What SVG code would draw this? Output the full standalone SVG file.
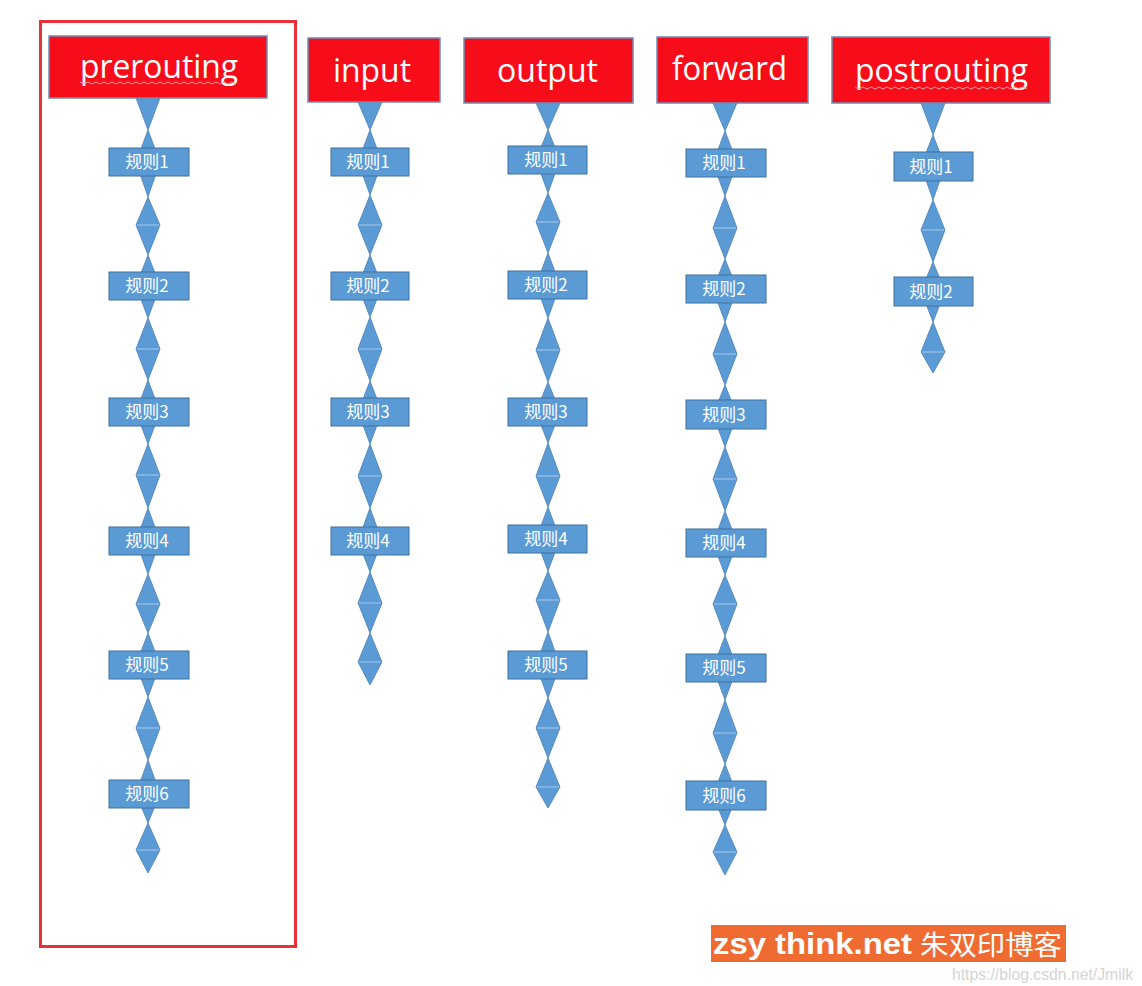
<svg xmlns="http://www.w3.org/2000/svg" width="1142" height="986" viewBox="0 0 1142 986">
<style>
.hdr{fill:#f70d1a;stroke:#6f8fb8;stroke-width:1.5}
.ht{fill:#ffffff;font-family:"Open Sans","Liberation Sans",sans-serif;font-size:32px;text-anchor:middle}
.box{fill:#5b9bd5;stroke:#41719c;stroke-width:1}
.bt{fill:#ffffff;font-family:"Noto Sans CJK SC","Liberation Sans",sans-serif;font-size:17px;text-anchor:middle}
.tri{fill:#5b9bd5;stroke:#4a7fb5;stroke-width:0.8}
.mid{stroke:#a9c8e8;stroke-width:1}
.sq{fill:none;stroke:#d9a3a3;stroke-width:1}
</style>
<rect x="0" y="0" width="1142" height="986" fill="#ffffff"/>
<rect x="40.5" y="21.5" width="255" height="925" fill="none" stroke="#ec3038" stroke-width="3"/>

<g id="connectors">
  <!-- prerouting -->
  <polygon class="tri" points="136,98 160,98 148,130"/>
  <polygon class="tri" points="148,130 160,162 148,197 136,162"/>
  <polygon class="tri" points="148,197 160,225 148,255 136,225"/>
  <polygon class="tri" points="148,255 160,286 148,318 136,286"/>
  <polygon class="tri" points="148,318 160,349 148,380 136,349"/>
  <polygon class="tri" points="148,380 160,412 148,444 136,412"/>
  <polygon class="tri" points="148,444 160,475 148,508 136,475"/>
  <polygon class="tri" points="148,508 160,541 148,574 136,541"/>
  <polygon class="tri" points="148,574 160,604 148,633 136,604"/>
  <polygon class="tri" points="148,633 160,665 148,697 136,665"/>
  <polygon class="tri" points="148,697 160,728 148,760 136,728"/>
  <polygon class="tri" points="148,760 160,794 148,823 136,794"/>
  <polygon class="tri" points="148,823 160,850 148,873 136,850"/>
  <path class="mid" d="M137,225H159M137,349H159M137,475H159M137,604H159M137,728H159M137,850H159"/>
  <!-- input -->
  <polygon class="tri" points="358,102 382,102 370,130"/>
  <polygon class="tri" points="370,130 382,162 370,195 358,162"/>
  <polygon class="tri" points="370,195 382,225 370,255 358,225"/>
  <polygon class="tri" points="370,255 382,286 370,317 358,286"/>
  <polygon class="tri" points="370,317 382,349 370,381 358,349"/>
  <polygon class="tri" points="370,381 382,412 370,444 358,412"/>
  <polygon class="tri" points="370,444 382,476 370,508 358,476"/>
  <polygon class="tri" points="370,508 382,541 370,572 358,541"/>
  <polygon class="tri" points="370,572 382,603 370,633 358,603"/>
  <polygon class="tri" points="370,633 382,662 370,685 358,662"/>
  <path class="mid" d="M359,225H381M359,349H381M359,476H381M359,603H381M359,662H381"/>
  <!-- output -->
  <polygon class="tri" points="536,103 560,103 548,130"/>
  <polygon class="tri" points="548,130 560,160 548,193 536,160"/>
  <polygon class="tri" points="548,193 560,222 548,253 536,222"/>
  <polygon class="tri" points="548,253 560,285 548,318 536,285"/>
  <polygon class="tri" points="548,318 560,350 548,382 536,350"/>
  <polygon class="tri" points="548,382 560,412 548,443 536,412"/>
  <polygon class="tri" points="548,443 560,476 548,507 536,476"/>
  <polygon class="tri" points="548,507 560,539 548,571 536,539"/>
  <polygon class="tri" points="548,571 560,600 548,632 536,600"/>
  <polygon class="tri" points="548,632 560,665 548,698 536,665"/>
  <polygon class="tri" points="548,698 560,728 548,758 536,728"/>
  <polygon class="tri" points="548,758 560,787 548,808 536,787"/>
  <path class="mid" d="M537,222H559M537,350H559M537,476H559M537,600H559M537,728H559M537,787H559"/>
  <!-- forward -->
  <polygon class="tri" points="713,103 737,103 725,131"/>
  <polygon class="tri" points="725,131 737,163 725,196 713,163"/>
  <polygon class="tri" points="725,196 737,228 725,259 713,228"/>
  <polygon class="tri" points="725,259 737,289 725,322 713,289"/>
  <polygon class="tri" points="725,322 737,354 725,385 713,354"/>
  <polygon class="tri" points="725,385 737,415 725,447 713,415"/>
  <polygon class="tri" points="725,447 737,479 725,511 713,479"/>
  <polygon class="tri" points="725,511 737,543 725,575 713,543"/>
  <polygon class="tri" points="725,575 737,604 725,636 713,604"/>
  <polygon class="tri" points="725,636 737,668 725,700 713,668"/>
  <polygon class="tri" points="725,700 737,733 725,764 713,733"/>
  <polygon class="tri" points="725,764 737,795 725,825 713,795"/>
  <polygon class="tri" points="725,825 737,852 725,875 713,852"/>
  <path class="mid" d="M714,228H736M714,354H736M714,479H736M714,604H736M714,733H736M714,852H736"/>
  <!-- postrouting -->
  <polygon class="tri" points="921,103 945,103 933,135"/>
  <polygon class="tri" points="933,135 945,166 933,200 921,166"/>
  <polygon class="tri" points="933,200 945,230 933,262 921,230"/>
  <polygon class="tri" points="933,262 945,291 933,322 921,291"/>
  <polygon class="tri" points="933,322 945,352 933,373 921,352"/>
  <path class="mid" d="M922,230H944M922,352H944"/>
</g>

<g id="prerouting">
  <rect class="hdr" x="49" y="36" width="218" height="62"/>
  <text class="ht" x="159" y="78" textLength="158" lengthAdjust="spacingAndGlyphs">prerouting</text>
  <path class="sq" d="M80,82 l4,2 l4,-2 l4,2 l4,-2 l4,2 l4,-2 l4,2 l4,-2 l4,2 l4,-2 l4,2 l4,-2 l4,2 l4,-2 l4,2 l4,-2 l4,2 l4,-2 l4,2 l4,-2 l4,2 l4,-2 l4,2 l4,-2 l4,2 l4,-2 l4,2 l4,-2 l4,2 l4,-2 l4,2 l4,-2 l4,2 l4,-2 l4,2 l4,-2 l4,2 l4,-2 l4,2"/>
</g>
<g id="pre-r1"><rect class="box" x="109" y="148" width="80" height="28"/><text class="bt" x="147" y="168">规则1</text></g>
<g id="pre-r2"><rect class="box" x="109" y="272" width="80" height="28"/><text class="bt" x="147" y="292">规则2</text></g>
<g id="pre-r3"><rect class="box" x="109" y="398" width="80" height="28"/><text class="bt" x="147" y="418">规则3</text></g>
<g id="pre-r4"><rect class="box" x="109" y="527" width="80" height="28"/><text class="bt" x="147" y="547">规则4</text></g>
<g id="pre-r5"><rect class="box" x="109" y="651" width="80" height="28"/><text class="bt" x="147" y="671">规则5</text></g>
<g id="pre-r6"><rect class="box" x="109" y="780" width="80" height="28"/><text class="bt" x="147" y="800">规则6</text></g>

<g id="input">
  <rect class="hdr" x="308" y="38" width="132" height="64"/>
  <text class="ht" x="372" y="82" textLength="78" lengthAdjust="spacingAndGlyphs">input</text>
</g>
<g id="in-r1"><rect class="box" x="331" y="148" width="78" height="28"/><text class="bt" x="368" y="168">规则1</text></g>
<g id="in-r2"><rect class="box" x="331" y="272" width="78" height="28"/><text class="bt" x="368" y="292">规则2</text></g>
<g id="in-r3"><rect class="box" x="331" y="398" width="78" height="28"/><text class="bt" x="368" y="418">规则3</text></g>
<g id="in-r4"><rect class="box" x="331" y="527" width="78" height="28"/><text class="bt" x="368" y="547">规则4</text></g>

<g id="output">
  <rect class="hdr" x="464" y="38" width="169" height="65"/>
  <text class="ht" x="547.5" y="82" textLength="101" lengthAdjust="spacingAndGlyphs">output</text>
</g>
<g id="out-r1"><rect class="box" x="508" y="146" width="79" height="28"/><text class="bt" x="546" y="166">规则1</text></g>
<g id="out-r2"><rect class="box" x="508" y="271" width="79" height="28"/><text class="bt" x="546" y="291">规则2</text></g>
<g id="out-r3"><rect class="box" x="508" y="398" width="79" height="28"/><text class="bt" x="546" y="418">规则3</text></g>
<g id="out-r4"><rect class="box" x="508" y="525" width="79" height="28"/><text class="bt" x="546" y="545">规则4</text></g>
<g id="out-r5"><rect class="box" x="508" y="651" width="79" height="28"/><text class="bt" x="546" y="671">规则5</text></g>

<g id="forward">
  <rect class="hdr" x="657" y="37" width="151" height="66"/>
  <text class="ht" x="729.5" y="80" textLength="115" lengthAdjust="spacingAndGlyphs">forward</text>
</g>
<g id="fwd-r1"><rect class="box" x="686" y="149" width="80" height="28"/><text class="bt" x="724" y="169">规则1</text></g>
<g id="fwd-r2"><rect class="box" x="686" y="275" width="80" height="28"/><text class="bt" x="724" y="295">规则2</text></g>
<g id="fwd-r3"><rect class="box" x="686" y="400" width="80" height="29"/><text class="bt" x="724" y="421">规则3</text></g>
<g id="fwd-r4"><rect class="box" x="686" y="529" width="80" height="28"/><text class="bt" x="724" y="549">规则4</text></g>
<g id="fwd-r5"><rect class="box" x="686" y="654" width="80" height="28"/><text class="bt" x="724" y="674">规则5</text></g>
<g id="fwd-r6"><rect class="box" x="686" y="781" width="80" height="29"/><text class="bt" x="724" y="802">规则6</text></g>

<g id="postrouting">
  <rect class="hdr" x="832" y="37" width="218" height="66"/>
  <text class="ht" x="941.5" y="82" textLength="173" lengthAdjust="spacingAndGlyphs">postrouting</text>
  <path class="sq" d="M855,87 l4,2 l4,-2 l4,2 l4,-2 l4,2 l4,-2 l4,2 l4,-2 l4,2 l4,-2 l4,2 l4,-2 l4,2 l4,-2 l4,2 l4,-2 l4,2 l4,-2 l4,2 l4,-2 l4,2 l4,-2 l4,2 l4,-2 l4,2 l4,-2 l4,2 l4,-2 l4,2 l4,-2 l4,2 l4,-2 l4,2 l4,-2 l4,2 l4,-2 l4,2 l4,-2 l4,2 l4,-2 l4,2 l4,-2 l4,2"/>
</g>
<g id="post-r1"><rect class="box" x="894" y="152" width="79" height="29"/><text class="bt" x="931" y="173">规则1</text></g>
<g id="post-r2"><rect class="box" x="894" y="277" width="79" height="29"/><text class="bt" x="931" y="298">规则2</text></g>

<g id="watermark">
  <rect x="711" y="925" width="355" height="37" fill="#ef6b32"/>
  <text x="713" y="954" fill="#ffffff" font-family="Liberation Sans, sans-serif" font-weight="bold" font-size="30" textLength="199" lengthAdjust="spacingAndGlyphs">zsy think.net</text>
  <text x="920" y="955" fill="#ffffff" font-family="Noto Sans CJK SC, sans-serif" font-size="27" textLength="142" lengthAdjust="spacingAndGlyphs">朱双印博客</text>
  <text x="952" y="980" fill="#d4d4d4" font-family="Liberation Sans, sans-serif" font-size="16" textLength="181" lengthAdjust="spacingAndGlyphs">https://blog.csdn.net/Jmilk</text>
</g>
</svg>
